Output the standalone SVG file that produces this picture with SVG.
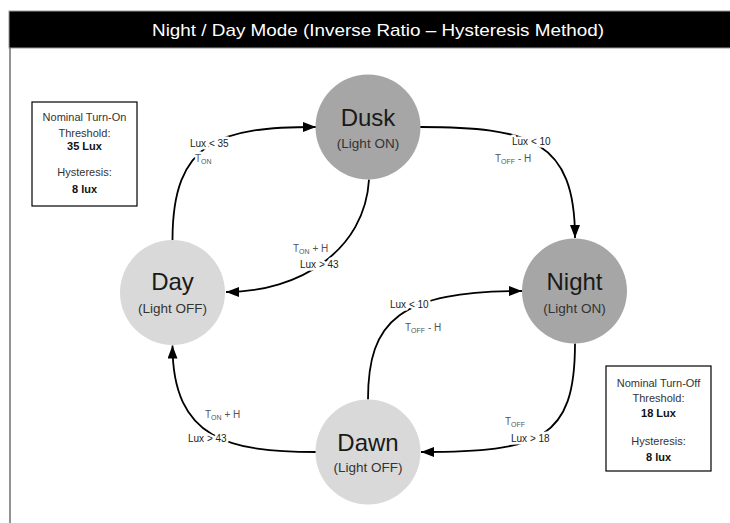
<svg xmlns="http://www.w3.org/2000/svg" width="730" height="523" viewBox="0 0 730 523">
<style>
  .node-dark { fill: #a6a6a6; }
  .node-light { fill: #d9d9d9; }
  .ntitle { font-family: "Liberation Sans", Arial, sans-serif; font-size: 24px; fill: #1a1a1a; text-anchor: middle; }
  .nsub { font-family: "Liberation Sans", Arial, sans-serif; font-size: 13.5px; fill: #333; text-anchor: middle; }
  .conn { fill: none; stroke: #000; stroke-width: 1.8; marker-end: url(#arr); }
  .lbl { font-family: "Liberation Sans", Arial, sans-serif; font-size: 10px; fill: #222; stroke: #fff; stroke-width: 5; paint-order: stroke; stroke-linejoin: round; }
  .t { fill: #555; }
  .sub { font-size: 7px; }
  .box { fill: #fff; stroke: #000; stroke-width: 1.2; }
  .btxt { font-family: "Liberation Sans", Arial, sans-serif; font-size: 11px; fill: #333; text-anchor: middle; }
  .bold { font-weight: bold; fill: #111; }
</style>
<defs>
  <marker id="arr" markerWidth="13" markerHeight="10" refX="13" refY="5" orient="auto" markerUnits="userSpaceOnUse">
    <path d="M0,0 L13,5 L0,10 Z" fill="#000"/>
  </marker>
</defs>
<rect x="0" y="0" width="730" height="523" fill="#fff"/>
<g id="frame">
  <rect x="9" y="11" width="722" height="37" fill="#000" stroke="#9a9a9a" stroke-width="1"/>
  <line x1="10" y1="48" x2="10" y2="523" stroke="#777" stroke-width="1.6"/>
  <text x="378" y="36" font-family="Liberation Sans, Arial, sans-serif" font-size="17" fill="#fff" text-anchor="middle" textLength="452" lengthAdjust="spacingAndGlyphs">Night / Day Mode (Inverse Ratio – Hysteresis Method)</text>
</g>
<g id="connectors">
  <path class="conn" d="M172.5,240 C172.5,140 220,127 316,127"/>
  <path class="conn" d="M420,127 C530,127 575,140 575,238"/>
  <path class="conn" d="M369,179.5 C365,250 300,292 226,292"/>
  <path class="conn" d="M575,343.5 C575,440 540,452 421,452"/>
  <path class="conn" d="M368,399.5 C368,320 400,291 522,291"/>
  <path class="conn" d="M316,452 C230,452 172.5,440 172.5,345.5"/>
</g>
<g id="labels">
  <text class="lbl" x="190" y="147">Lux &lt; 35</text>
  <text class="lbl t" x="195" y="162">T<tspan class="sub" dy="1.5">ON</tspan></text>
  <text class="lbl" x="512" y="145">Lux &lt; 10</text>
  <text class="lbl t" x="495" y="162">T<tspan class="sub" dy="1.5">OFF</tspan><tspan dy="-1.5"> - H</tspan></text>
  <text class="lbl t" x="293" y="252">T<tspan class="sub" dy="1.5">ON</tspan><tspan dy="-1.5"> + H</tspan></text>
  <text class="lbl" x="300" y="268">Lux &gt; 43</text>
  <text class="lbl" x="390" y="308">Lux &lt; 10</text>
  <text class="lbl t" x="405" y="331">T<tspan class="sub" dy="1.5">OFF</tspan><tspan dy="-1.5"> - H</tspan></text>
  <text class="lbl t" x="505" y="425">T<tspan class="sub" dy="1.5">OFF</tspan></text>
  <text class="lbl" x="511" y="442">Lux &gt; 18</text>
  <text class="lbl t" x="205" y="418">T<tspan class="sub" dy="1.5">ON</tspan><tspan dy="-1.5"> + H</tspan></text>
  <text class="lbl" x="188" y="442">Lux &gt; 43</text>
</g>
<g id="node-dusk">
  <circle class="node-dark" cx="368" cy="127" r="52.5"/>
  <text class="ntitle" x="368" y="126">Dusk</text>
  <text class="nsub" x="368" y="148">(Light ON)</text>
</g>
<g id="node-day">
  <circle class="node-light" cx="172.5" cy="292.5" r="52.5"/>
  <text class="ntitle" x="172.5" y="290">Day</text>
  <text class="nsub" x="172.5" y="313">(Light OFF)</text>
</g>
<g id="node-night">
  <circle class="node-dark" cx="574.5" cy="291" r="52.5"/>
  <text class="ntitle" x="574.5" y="290">Night</text>
  <text class="nsub" x="574.5" y="313">(Light ON)</text>
</g>
<g id="node-dawn">
  <circle class="node-light" cx="368" cy="452" r="52.5"/>
  <text class="ntitle" x="368" y="451">Dawn</text>
  <text class="nsub" x="368" y="472">(Light OFF)</text>
</g>
<g id="box-turn-on">
  <rect class="box" x="32" y="102" width="105" height="104"/>
  <text class="btxt" x="84.5" y="121">Nominal Turn-On</text>
  <text class="btxt" x="84.5" y="137">Threshold:</text>
  <text class="btxt bold" x="84.5" y="150">35 Lux</text>
  <text class="btxt" x="84.5" y="176">Hysteresis:</text>
  <text class="btxt bold" x="84.5" y="193">8 lux</text>
</g>
<g id="box-turn-off">
  <rect class="box" x="606" y="366" width="105" height="105"/>
  <text class="btxt" x="658.5" y="387">Nominal Turn-Off</text>
  <text class="btxt" x="658.5" y="402">Threshold:</text>
  <text class="btxt bold" x="658.5" y="417">18 Lux</text>
  <text class="btxt" x="658.5" y="445">Hysteresis:</text>
  <text class="btxt bold" x="658.5" y="461">8 lux</text>
</g>
</svg>
